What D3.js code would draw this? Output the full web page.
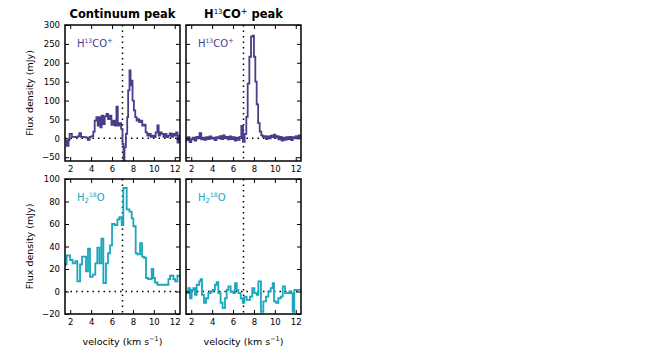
<!DOCTYPE html>
<html><head><meta charset="utf-8">
<script src="https://cdn.jsdelivr.net/npm/d3@7"></script>
<style>body{margin:0;background:#fff} svg{display:block} text{font-family:"DejaVu Sans",sans-serif}</style>
</head><body><svg id="c" width="653" height="354"></svg>
<script>
// ---- data (velocity in km/s, flux in mJy), step spectra ----
const velContH13 = [1.5,1.68,1.84,1.94,2.16,2.48,2.71,2.87,3.03,3.28,3.54,3.67,3.86,4.05,4.21,4.34,4.5,4.63,4.76,4.88,5.01,5.14,5.3,5.46,5.62,5.78,5.94,6.1,6.26,6.42,6.55,6.71,6.87,7.0,7.1,7.19,7.32,7.45,7.54,7.67,7.77,7.87,7.96,8.09,8.22,8.35,8.47,8.6,8.73,8.89,9.05,9.21,9.37,9.53,9.69,9.85,10.01,10.17,10.33,10.46,10.59,10.75,10.91,11.04,11.2,11.36,11.52,11.68,11.84,12.0,12.13,12.26,12.42,12.6];
const fluxContH13 = [-6,-20,-5,12,4,3,5,14,4,3,2,-4,4,6,18,47,56,34,56,29,60,38,58,65,51,60,36,47,34,84,34,40,25,-15,-58,-24,12,56,127,180,140,153,100,74,56,47,51,43,47,34,36,16,7,12,4,7,3,16,34,7,16,12,4,12,3,7,13,4,12,7,16,-11,7,7];

const velPeakH13 = [1.5,1.68,1.84,2.0,2.16,2.32,2.48,2.64,2.8,2.96,3.12,3.28,3.44,3.6,3.76,3.92,4.08,4.24,4.4,4.56,4.72,4.88,5.04,5.2,5.36,5.52,5.68,5.84,6.0,6.16,6.32,6.48,6.64,6.79,6.95,7.11,7.27,7.4,7.56,7.72,7.86,8.0,8.13,8.26,8.4,8.55,8.7,8.85,9.0,9.15,9.3,9.45,9.6,9.75,9.9,10.05,10.2,10.35,10.5,10.65,10.8,10.95,11.1,11.25,11.4,11.55,11.7,11.85,12.0,12.15,12.3,12.45,12.6];
const fluxPeakH13 = [-5,3,-10,-3,2,-6,4,0,14,-3,2,-4,3,-2,5,-1,2,-5,3,0,6,-2,8,0,4,-3,5,-2,3,-6,2,-4,4,33,-9,12,57,145,216,269,272,216,150,90,40,18,8,4,6,-2,5,0,7,3,10,2,6,-3,4,-6,2,-4,3,-2,4,-5,3,0,6,2,8,4,4];

const velContH2O = [1.5,1.66,1.98,2.23,2.49,2.68,2.94,3.13,3.51,3.70,3.89,4.15,4.40,4.59,4.79,4.98,5.17,5.42,5.61,5.81,6.0,6.25,6.51,6.70,6.92,7.08,7.40,7.66,7.88,8.04,8.26,8.42,8.68,8.87,9.06,9.25,9.47,9.79,9.95,10.11,10.34,11.39,11.55,11.87,12.03,12.25,12.6];
const fluxContH2O = [24,32,28,25,27,9,24,31,18,38,13,15,25,39,25,47,7.5,25,34,41,60,59,64,66,59,92,73,71,65,58,34,33,43,31,30,12,11,20,12,8,6,11,14,11,9,14,14];

const velPeakH2O = [1.5,1.72,1.88,2.04,2.2,2.36,2.52,2.77,2.9,3.03,3.22,3.41,3.63,3.86,4.05,4.27,4.43,4.59,4.81,5.0,5.23,5.39,5.55,5.77,6.03,6.19,6.35,6.51,6.73,6.92,7.08,7.3,7.62,7.84,8.04,8.26,8.42,8.67,8.9,9.15,9.38,9.6,9.79,9.92,10.11,10.33,10.56,10.75,10.97,11.19,11.39,11.51,11.7,11.86,12.09,12.4,12.6];
const fluxPeakH2O = [-1.4,3,-6,1.5,3,-3,6,9,11,-3,-10,-6,-1.4,0,1.5,6,8.4,-1.4,-10,-14.7,-6,1.5,4.5,0,-1.4,7.5,1.5,-1.4,-6,-10,-4.5,-7.5,-4.5,3,-1.4,-3,9,-18,-8.8,-4.5,0,3,7.5,-8.8,-10,-6,-4.5,4.5,-1.4,-1.4,0,-1.4,-18,1.5,1.5,1.5,1.5];

const xTicks = [2,4,6,8,10,12];
const yTicksH13 = [-50,0,50,100,150,200,250,300];
const yTicksH2O = [-20,0,20,40,60,80,100];
const columnTitles = ["Continuum peak", "H13CO+ peak"];
const vSys = 7.0;

const purple = "#483d8b", cyan = "#1aa6bd";

const svg = d3.select("#c");
const cols = [[65,180],[186,301]];
const rows = [[25,161],[179,314]];

const panels = [
  {c:0,r:0,vel:velContH13,flux:fluxContH13,color:purple,mol:"h13",dom:[-60,300],ticks:yTicksH13},
  {c:1,r:0,vel:velPeakH13,flux:fluxPeakH13,color:purple,mol:"h13",dom:[-60,300],ticks:yTicksH13},
  {c:0,r:1,vel:velContH2O,flux:fluxContH2O,color:cyan,mol:"h2o",dom:[-20,100],ticks:yTicksH2O},
  {c:1,r:1,vel:velPeakH2O,flux:fluxPeakH2O,color:cyan,mol:"h2o",dom:[-20,100],ticks:yTicksH2O}
];

function molLabel(g, kind, x, y, color){
  const t = g.append("text").attr("x",x).attr("y",y).attr("fill",color).attr("font-size",10);
  if(kind==="h13"){
    t.append("tspan").text("H");
    t.append("tspan").attr("font-size",6).attr("dy",-4).text("13");
    t.append("tspan").attr("dy",4).text("CO");
    t.append("tspan").attr("font-size",7).attr("dy",-4).text("+");
  } else {
    t.append("tspan").text("H");
    t.append("tspan").attr("font-size",7).attr("dy",2).text("2");
    t.append("tspan").attr("font-size",6).attr("dy",-6).text("18");
    t.append("tspan").attr("dy",4).text("O");
  }
}

panels.forEach((p,i)=>{
  const [x0,x1] = cols[p.c], [y0,y1] = rows[p.r];
  const x = d3.scaleLinear().domain([1.5,12.5]).range([x0,x1]);
  const y = d3.scaleLinear().domain(p.dom).range([y1,y0]);
  const g = svg.append("g");
  const cid = "clip"+i;
  g.append("clipPath").attr("id",cid).append("rect").attr("x",x0).attr("y",y0).attr("width",x1-x0).attr("height",y1-y0);
  // dotted reference lines
  g.append("line").attr("x1",x0).attr("x2",x1).attr("y1",y(0)).attr("y2",y(0))
    .attr("stroke","#000").attr("stroke-width",1.5).attr("stroke-dasharray","1.5,4");
  g.append("line").attr("x1",x(vSys)).attr("x2",x(vSys)).attr("y1",y0).attr("y2",y1)
    .attr("stroke","#000").attr("stroke-width",1.5).attr("stroke-dasharray","1.5,4");
  // spectrum
  const data = p.vel.map((v,k)=>[v,p.flux[k]]);
  g.append("path").attr("clip-path",`url(#${cid})`).datum(data)
    .attr("d", d3.line().x(d=>x(d[0])).y(d=>y(d[1])).curve(d3.curveStepAfter))
    .attr("fill","none").attr("stroke",p.color).attr("stroke-width",1.8).attr("stroke-linejoin","miter");
  // axes with inward ticks
  const ax = (gen,tr)=> g.append("g").attr("transform",tr).call(gen);
  const xb = ax(d3.axisBottom(x).tickValues(xTicks).tickSizeInner(-4).tickSizeOuter(0).tickPadding(5), `translate(0,${y1})`);
  const xt = ax(d3.axisTop(x).tickValues(xTicks).tickSizeInner(-4).tickSizeOuter(0).tickFormat(""), `translate(0,${y0})`);
  const yl = ax(d3.axisLeft(y).tickValues(p.ticks).tickSizeInner(-4).tickSizeOuter(0).tickPadding(5).tickFormat(p.c===0? d=>d3.format("d")(d).replace("-","\u2212") : ""), `translate(${x0},0)`);
  const yr = ax(d3.axisRight(y).tickValues(p.ticks).tickSizeInner(-4).tickSizeOuter(0).tickFormat(""), `translate(${x1},0)`);
  [xb,xt,yl,yr].forEach(a=>{
    a.select(".domain").remove();
    a.selectAll("line").attr("stroke","#000").attr("stroke-width",1);
    a.selectAll("text").attr("font-family","DejaVu Sans").attr("font-size",8.5).attr("fill","#000");
  });
  // frame
  g.append("rect").attr("x",x0).attr("y",y0).attr("width",x1-x0).attr("height",y1-y0)
    .attr("fill","none").attr("stroke","#000").attr("stroke-width",1.5);
  molLabel(g, p.mol, x0+12, y0+22, p.color);
  if(p.c===0){
    svg.append("text").attr("transform",`translate(33,${(y0+y1)/2}) rotate(-90)`)
      .attr("text-anchor","middle").attr("font-size",9.5).text("Flux density (mJy)");
  }
  if(p.r===1){
    const t = svg.append("text").attr("x",(x0+x1)/2).attr("y",345).attr("text-anchor","middle").attr("font-size",9.5);
    t.append("tspan").text("velocity (km s");
    t.append("tspan").attr("font-size",6.5).attr("dy",-4).text("\u22121");
    t.append("tspan").attr("dy",4).text(")");
  }
});

// column titles
const t0 = svg.append("text").attr("x",(cols[0][0]+cols[0][1])/2).attr("y",18).attr("text-anchor","middle")
  .attr("font-size",11.5).attr("font-weight","bold").text(columnTitles[0]);
const t1 = svg.append("text").attr("x",(cols[1][0]+cols[1][1])/2).attr("y",18).attr("text-anchor","middle")
  .attr("font-size",11.5).attr("font-weight","bold");
t1.append("tspan").text("H");
t1.append("tspan").attr("font-size",7).attr("font-weight","normal").attr("dy",-4).text("13");
t1.append("tspan").attr("dy",4).text("CO");
t1.append("tspan").attr("font-size",8).attr("font-weight","normal").attr("dy",-4).text("+");
t1.append("tspan").attr("dy",4).text(" peak");
</script></body></html>
